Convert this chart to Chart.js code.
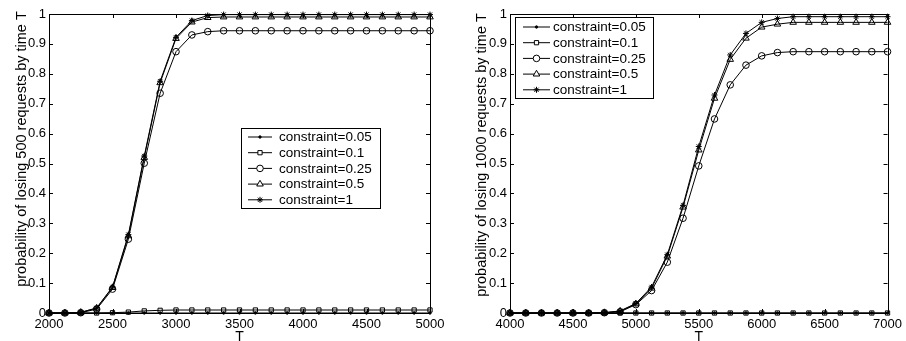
<!DOCTYPE html>
<html>
<head>
<meta charset="utf-8">
<script src="https://cdn.jsdelivr.net/npm/chart.js@4/dist/chart.umd.min.js"></script>
<style>
  body { margin: 0; background: #fff; }
  .row { display: flex; width: 906px; height: 341px; }
  canvas { display: block; }
</style>
</head>
<body>
<div class="row">
  <canvas id="left" width="453" height="341"></canvas>
  <canvas id="right" width="453" height="341"></canvas>
</div>
<script>
// time axis values
var T_LEFT = [2000, 2125, 2250, 2375, 2500, 2625, 2750, 2875, 3000, 3125, 3250, 3375, 3500,
  3625, 3750, 3875, 4000, 4125, 4250, 4375, 4500, 4625, 4750, 4875, 5000];
var T_RIGHT = [4000, 4125, 4250, 4375, 4500, 4625, 4750, 4875, 5000, 5125, 5250, 5375, 5500,
  5625, 5750, 5875, 6000, 6125, 6250, 6375, 6500, 6625, 6750, 6875, 7000];

var LABELS = ['constraint=0.05', 'constraint=0.1', 'constraint=0.25', 'constraint=0.5', 'constraint=1'];

// losing 500 requests
var L_005 = [0, 0, 0, 0, 0, 0, 0, 0, 0, 0, 0, 0, 0, 0, 0, 0, 0, 0, 0, 0, 0, 0, 0, 0, 0];
var L_01 = [0, 0, 0, 0, 0.001, 0.003, 0.007, 0.009, 0.01, 0.01, 0.01, 0.01, 0.01, 0.01, 0.01,
  0.01, 0.01, 0.01, 0.01, 0.01, 0.01, 0.01, 0.01, 0.01, 0.01];
var L_025 = [0, 0, 0.001, 0.013, 0.08, 0.247, 0.501, 0.735, 0.874, 0.93, 0.941, 0.944, 0.944,
  0.944, 0.944, 0.944, 0.944, 0.944, 0.944, 0.944, 0.944, 0.944, 0.944, 0.944, 0.944];
var L_05 = [0, 0, 0.002, 0.016, 0.085, 0.258, 0.52, 0.77, 0.918, 0.973, 0.988, 0.99, 0.99,
  0.99, 0.99, 0.99, 0.99, 0.99, 0.99, 0.99, 0.99, 0.99, 0.99, 0.99, 0.99];
var L_1 = [0, 0, 0.002, 0.017, 0.087, 0.262, 0.525, 0.775, 0.922, 0.978, 0.995, 0.998, 0.998,
  0.998, 0.998, 0.998, 0.998, 0.998, 0.998, 0.998, 0.998, 0.998, 0.998, 0.998, 0.998];

// losing 1000 requests
var R_005 = [0, 0, 0, 0, 0, 0, 0, 0, 0, 0, 0, 0, 0, 0, 0, 0, 0, 0, 0, 0, 0, 0, 0, 0, 0];
var R_01 = [0, 0, 0, 0, 0, 0, 0, 0, 0, 0, 0, 0, 0, 0, 0, 0, 0, 0, 0, 0, 0, 0, 0, 0, 0];
var R_025 = [0, 0, 0, 0, 0, 0, 0.001, 0.004, 0.028, 0.075, 0.17, 0.317, 0.492, 0.649, 0.763,
  0.829, 0.86, 0.871, 0.874, 0.874, 0.874, 0.874, 0.874, 0.874, 0.874];
var R_05 = [0, 0, 0, 0, 0, 0, 0.001, 0.006, 0.03, 0.083, 0.19, 0.354, 0.545, 0.718, 0.848,
  0.919, 0.956, 0.966, 0.972, 0.972, 0.972, 0.972, 0.972, 0.972, 0.972];
var R_1 = [0, 0, 0, 0, 0, 0, 0.001, 0.007, 0.032, 0.087, 0.195, 0.36, 0.557, 0.729, 0.863,
  0.935, 0.972, 0.985, 0.991, 0.991, 0.991, 0.991, 0.991, 0.991, 0.991];

var FONT = "'Liberation Sans', Arial, sans-serif";

var markers = [
  { pointStyle: 'circle', radius: 1.2, fill: '#000' },
  { pointStyle: 'rect', radius: 3, fill: 'rgba(0,0,0,0)' },
  { pointStyle: 'circle', radius: 3.3, fill: 'rgba(0,0,0,0)' },
  { pointStyle: 'triangle', radius: 3.8, fill: 'rgba(0,0,0,0)' },
  { pointStyle: 'star', radius: 3, fill: '#000' }
];

function pts(xs, ys) {
  return xs.map(function (x, i) { return { x: x, y: ys[i] }; });
}

function makeSets(xs, series) {
  return series.map(function (s, i) {
    return {
      label: LABELS[i],
      data: pts(xs, s),
      borderColor: '#000',
      borderWidth: 1,
      backgroundColor: markers[i].fill,
      pointStyle: markers[i].pointStyle,
      pointRadius: markers[i].radius,
      pointBorderColor: '#000',
      pointBackgroundColor: markers[i].fill,
      pointBorderWidth: 1,
      tension: 0,
      clip: false
    };
  });
}

// box, inward ticks, axis titles and the legend box
var matlabLook = {
  id: 'matlabLook',
  afterDraw: function (chart, args, opts) {
    var ctx = chart.ctx, a = chart.chartArea;
    var xs = chart.scales.x, ys = chart.scales.y;
    ctx.save();
    ctx.strokeStyle = '#000';
    ctx.lineWidth = 1;
    ctx.strokeRect(Math.round(a.left) + 0.5, Math.round(a.top) + 0.5,
      Math.round(a.right - a.left), Math.round(a.bottom - a.top));
    ctx.beginPath();
    xs.ticks.forEach(function (t) {
      var px = Math.round(xs.getPixelForValue(t.value)) + 0.5;
      ctx.moveTo(px, a.bottom); ctx.lineTo(px, a.bottom - 4);
      ctx.moveTo(px, a.top); ctx.lineTo(px, a.top + 4);
    });
    ys.ticks.forEach(function (t) {
      var py = Math.round(ys.getPixelForValue(t.value)) + 0.5;
      ctx.moveTo(a.left, py); ctx.lineTo(a.left + 4, py);
      ctx.moveTo(a.right, py); ctx.lineTo(a.right - 4, py);
    });
    ctx.stroke();

    ctx.fillStyle = '#000';
    ctx.font = '14px ' + FONT;
    ctx.textAlign = 'center';
    ctx.textBaseline = 'middle';
    ctx.fillText('T', (a.left + a.right) / 2, opts.xTitleY);
    ctx.save();
    ctx.font = '14.5px ' + FONT;
    ctx.translate(opts.yTitleX, opts.yTitleY);
    ctx.rotate(-Math.PI / 2);
    ctx.fillText(opts.yTitle, 0, 0);
    ctx.restore();

    // legend
    var L = opts.legend;
    ctx.fillStyle = '#fff';
    ctx.fillRect(L.x, L.y, L.w, L.h);
    ctx.strokeRect(L.x + 0.5, L.y + 0.5, L.w, L.h);
    ctx.font = '13.5px ' + FONT;
    ctx.textAlign = 'left';
    chart.data.datasets.forEach(function (ds, i) {
      var y = L.y + L.firstRow + i * L.rowGap;
      ctx.beginPath();
      ctx.moveTo(L.x + L.lineX0, y);
      ctx.lineTo(L.x + L.lineX1, y);
      ctx.stroke();
      ctx.fillStyle = ds.pointBackgroundColor === '#000' ? '#000' : '#fff';
      Chart.helpers.drawPoint(ctx, {
        pointStyle: ds.pointStyle, radius: ds.pointRadius, borderWidth: 1, rotation: 0
      }, L.x + (L.lineX0 + L.lineX1) / 2, y);
      ctx.fillStyle = '#000';
      ctx.fillText(ds.label, L.x + L.textX, y + 0.5);
    });
    ctx.restore();
  }
};

function makeChart(id, xs, series, xmin, xmax, yAxisW, rightPad, titleOpts) {
  return new Chart(document.getElementById(id), {
    type: 'line',
    data: { datasets: makeSets(xs, series) },
    plugins: [matlabLook],
    options: {
      responsive: false,
      animation: false,
      layout: { padding: { left: 0, top: 14, right: rightPad, bottom: 0 } },
      plugins: { legend: { display: false }, tooltip: { enabled: false }, matlabLook: titleOpts },
      scales: {
        x: {
          type: 'linear', min: xmin, max: xmax,
          grid: { display: false, drawTicks: false },
          border: { display: false },
          ticks: { stepSize: 500, color: '#000', padding: 4, font: { family: FONT, size: 13 },
            maxRotation: 0, callback: function (v) { return v; } },
          afterFit: function (s) { s.height = 28; }
        },
        y: {
          min: 0, max: 1,
          grid: { display: false, drawTicks: false },
          border: { display: false },
          ticks: { stepSize: 0.1, color: '#000', padding: 3, font: { family: FONT, size: 13 },
            callback: function (v) { return String(Math.round(v * 10) / 10); } },
          afterFit: function (s) { s.width = yAxisW; }
        }
      }
    }
  });
}

makeChart('left', T_LEFT, [L_005, L_01, L_025, L_05, L_1], 2000, 5000, 49, 23, {
  yTitle: 'probability of losing 500 requests by time T',
  yTitleX: 22, yTitleY: 149, xTitleY: 337,
  legend: { x: 241, y: 128, w: 139, h: 80, firstRow: 9, rowGap: 15.7, lineX0: 7, lineX1: 31, textX: 38 }
});

makeChart('right', T_RIGHT, [R_005, R_01, R_025, R_05, R_1], 4000, 7000, 57, 12, {
  yTitle: 'probability of losing 1000 requests by time T',
  yTitleX: 29, yTitleY: 155, xTitleY: 337,
  legend: { x: 62, y: 17, w: 138, h: 81, firstRow: 10, rowGap: 15.7, lineX0: 8, lineX1: 35, textX: 38 }
});
</script>
</body>
</html>
